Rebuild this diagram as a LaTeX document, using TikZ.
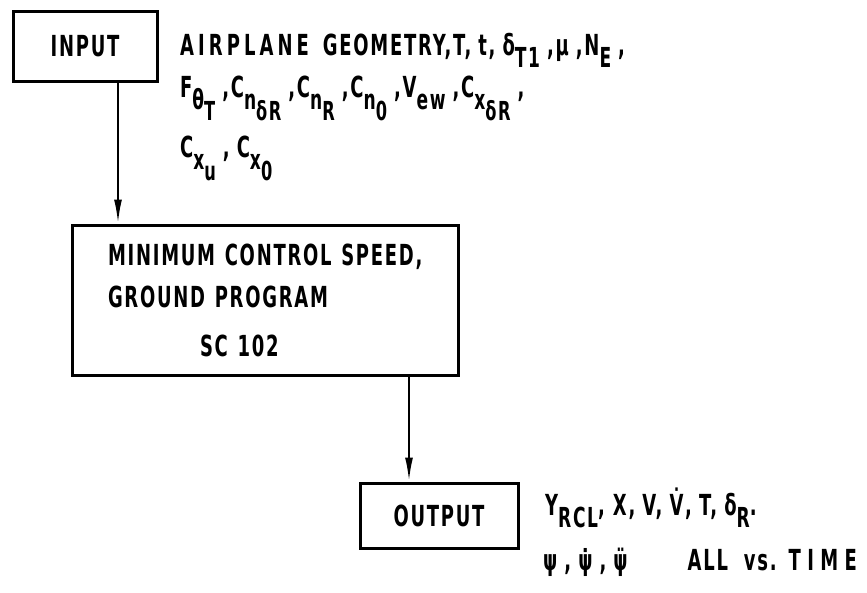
\documentclass[tikz,border=0pt]{standalone}
\usepackage{fontspec}
\usepackage{graphicx}
\setmainfont{DejaVu Sans}[FakeStretch=0.62,LetterSpace=6]
\usetikzlibrary{arrows.meta}
\newcommand\sbs[1]{\raisebox{-0.42em}{\scalebox{0.95}{#1}}}
\newcommand\gap{\hspace{7pt}}
\tikzset{
  box/.style={draw,line width=3pt,inner sep=0pt},
  flow/.style={line width=2.2pt,-{Latex[length=24pt,width=8pt]}},
  txt/.style={anchor=base west,inner sep=0pt}
}
\begin{document}
\begin{tikzpicture}[x=1pt,y=-1pt,font=\bfseries\fontsize{29}{42}\selectfont]
        \useasboundingbox (0,0) rectangle (867,592);

        \node[box,minimum width=144pt,minimum height=70pt] (input) at (85,46) {INPUT};
        \node[box,minimum width=386pt,minimum height=150pt,text width=314pt,
              inner xsep=36pt,align=left] (mid) at (265,300)
              {MINIMUM CONTROL SPEED,\\GROUND PROGRAM\\[7pt]\hspace*{92pt}SC 102};
        \node[box,minimum width=158pt,minimum height=65pt] (out) at (439,515.5) {OUTPUT};

        \draw[flow] ([xshift=33pt]input.south) -- ([xshift=33pt]input.south |- mid.north);
        \draw[flow] ([xshift=144pt]mid.south) -- ([xshift=144pt]mid.south |- out.north);

        \node[txt] (in1) at (180,55) {{\addfontfeature{LetterSpace=14}AIRPLANE}\hspace{14pt}GEOMETRY,T,\gap t,\gap δ\sbs{T1}\gap,μ\gap,N\sbs{E}\gap,};
        \node[txt] (in2) at (180,97) {F\sbs{θ\sbs{T}}\gap,C\sbs{n\sbs{δR}}\gap,C\sbs{n\sbs{R}}\gap,C\sbs{n\sbs{0}}\gap,V\sbs{ew}\gap,C\sbs{x\sbs{δR}}\gap,};
        \node[txt] (in3) at (180,157) {C\sbs{x\sbs{u}}\gap,\gap C\sbs{x\sbs{0}}};

        \node[txt] (out1) at (545,515) {Y\sbs{RCL}, X,\gap V,\gap \.V,\gap T,\gap δ\sbs{R}.};
        \node[txt] (out2) at (543,570) {ψ\gap,\gap\.ψ\gap,\gap\"ψ\hspace{60pt}ALL\hspace{16pt}vs.\hspace{12pt}{\addfontfeature{LetterSpace=22}TIME}};
    \end{tikzpicture}
\end{document}
